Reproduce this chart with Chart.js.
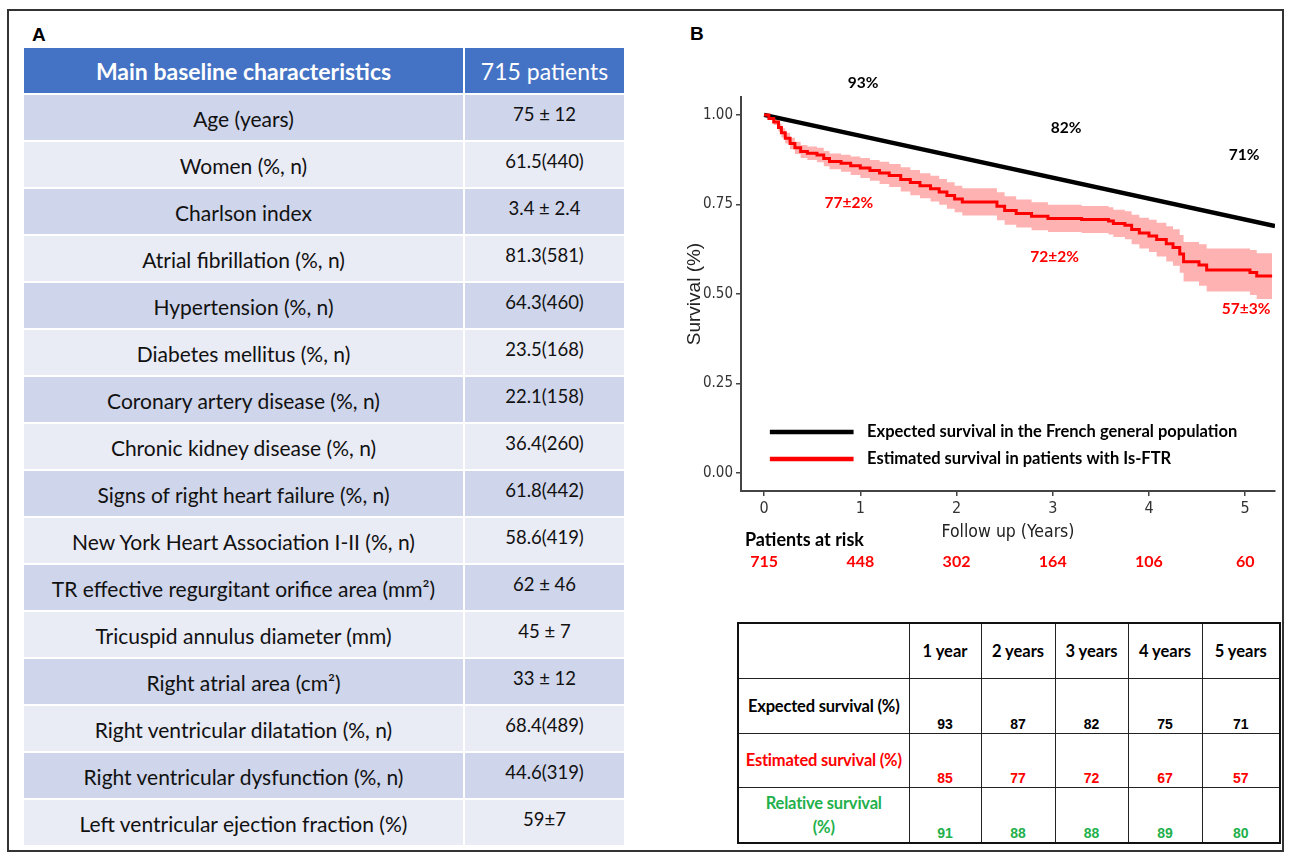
<!DOCTYPE html>
<html>
<head>
<meta charset="utf-8">
<script src="https://cdn.jsdelivr.net/npm/chart.js@4.4.0/dist/chart.umd.min.js"></script>
<style>
html,body{margin:0;padding:0;background:#fff;}
body{width:1290px;height:860px;position:relative;overflow:hidden;font-family:Lato,'Open Sans',sans-serif;}
#frame{position:absolute;left:7px;top:9px;width:1277px;height:843px;border:2px solid #333;box-sizing:border-box;}
.letter{position:absolute;font-family:'Liberation Sans',Arial,sans-serif;font-weight:bold;font-size:19px;color:#000;line-height:1;}
.cell{position:absolute;display:flex;align-items:center;justify-content:center;box-sizing:border-box;font-family:Lato,sans-serif;font-size:21px;color:#111;white-space:nowrap;padding-top:2px;}
.hdr{color:#fff;font-size:23px;padding-top:0;}
.hdr.b{font-weight:bold;}
.val{padding-bottom:8px;padding-top:0;font-size:18.5px;}
#chartBox{position:absolute;left:680px;top:60px;width:610px;height:520px;}
#tb{position:absolute;left:737px;top:622px;border-collapse:collapse;table-layout:fixed;border:2px solid #111;}
#tb td{border:1.5px solid #222;padding:0;text-align:center;box-sizing:border-box;white-space:nowrap;}
#tb .yh{font-family:Lato,sans-serif;font-weight:bold;font-size:16.5px;vertical-align:middle;color:#000;}
#tb .lab{font-family:Lato,sans-serif;font-weight:bold;font-size:16.5px;vertical-align:middle;line-height:24px;letter-spacing:-0.2px;}
#tb .num{font-family:'Liberation Sans',Arial,sans-serif;font-weight:bold;font-size:14px;vertical-align:bottom;padding-bottom:1px;}
</style>
</head>
<body>
<div id="frame"></div>
<div class="letter" style="left:32px;top:25px;">A</div>
<div class="letter" style="left:690px;top:24px;">B</div>
<div id="tableA"></div>
<div id="chartBox"><canvas id="c" width="610" height="520"></canvas></div>
<table id="tb"></table>
<script>
// ---------- Panel A data ----------
const charLabels = [
  'Age (years)','Women (%, n)','Charlson index','Atrial fibrillation (%, n)','Hypertension (%, n)',
  'Diabetes mellitus (%, n)','Coronary artery disease (%, n)','Chronic kidney disease (%, n)',
  'Signs of right heart failure (%, n)','New York Heart Association I-II (%, n)',
  'TR effective regurgitant orifice area (mm\u00B2)','Tricuspid annulus diameter  (mm)',
  'Right atrial area (cm\u00B2)','Right ventricular dilatation (%, n)',
  'Right ventricular dysfunction (%, n)','Left ventricular ejection fraction (%)'
];
const charValues = [
  '75 \u00B1 12','61.5(440)','3.4 \u00B1 2.4','81.3(581)','64.3(460)','23.5(168)','22.1(158)',
  '36.4(260)','61.8(442)','58.6(419)','62 \u00B1 46','45 \u00B1 7','33 \u00B1 12','68.4(489)',
  '44.6(319)','59\u00B17'
];
const headerLabels = ['Main baseline characteristics','715 patients'];

// ---------- Panel B data ----------
const xTicks = [0,1,2,3,4,5];
const yTicks = [0,0.25,0.5,0.75,1];
const yTickLabels = ['0.00','0.25','0.50','0.75','1.00'];
const expTime = [0, 5.31];
const expSurv = [1.0, 0.69];
const kmTime  = [0,0.05,0.10,0.15,0.18,0.22,0.27,0.32,0.38,0.45,0.55,0.62,0.68,0.80,0.90,1.00,1.10,1.20,1.30,1.42,1.52,1.62,1.73,1.82,1.90,1.98,2.06,2.42,2.50,2.62,2.78,2.95,3.30,3.58,3.63,3.75,3.82,3.90,4.00,4.08,4.18,4.25,4.32,4.36,4.52,4.60,5.05,5.12,5.28];
const kmSurv  = [1.000,0.990,0.980,0.965,0.950,0.935,0.920,0.908,0.898,0.893,0.888,0.878,0.870,0.865,0.858,0.852,0.845,0.838,0.831,0.820,0.811,0.802,0.794,0.785,0.775,0.765,0.757,0.745,0.733,0.725,0.717,0.711,0.708,0.704,0.697,0.692,0.680,0.670,0.662,0.652,0.640,0.630,0.612,0.590,0.581,0.567,0.560,0.550,0.550];
const kmLower = [1.000,0.986,0.972,0.954,0.937,0.920,0.904,0.891,0.880,0.874,0.868,0.857,0.848,0.841,0.832,0.824,0.816,0.807,0.799,0.786,0.776,0.767,0.758,0.749,0.738,0.728,0.719,0.706,0.693,0.686,0.678,0.673,0.670,0.666,0.659,0.653,0.639,0.627,0.617,0.605,0.591,0.579,0.559,0.535,0.523,0.507,0.497,0.486,0.486];
const kmUpper = [1.000,0.994,0.988,0.976,0.963,0.950,0.936,0.925,0.916,0.912,0.908,0.899,0.892,0.889,0.884,0.880,0.874,0.869,0.863,0.854,0.846,0.837,0.830,0.821,0.812,0.802,0.795,0.784,0.773,0.764,0.756,0.749,0.746,0.742,0.735,0.731,0.721,0.713,0.707,0.699,0.689,0.681,0.665,0.645,0.639,0.627,0.623,0.614,0.614];
const expLabels = ['93%','82%','71%'];
const estLabels = ['77\u00B12%','72\u00B12%','57\u00B13%'];
const atRiskTimes  = [0,1,2,3,4,5];
const atRiskCounts = [715,448,302,164,106,60];
const legendLabels = ['Expected survival in the French general population','Estimated survival in patients with Is-FTR'];

// ---------- Summary table data ----------
const yearLabels = ['1 year','2 years','3 years','4 years','5 years'];
const expectedPct = [93,87,82,75,71];
const estimatedPct = [85,77,72,67,57];
const relativePct = [91,88,88,89,80];

// ---------- Build Table A ----------
const tA = document.getElementById('tableA');
function cell(x,y,w,h,bg,txt,cls){
  const d=document.createElement('div');
  d.className='cell '+(cls||'');
  d.style.left=x+'px';d.style.top=y+'px';d.style.width=w+'px';d.style.height=h+'px';
  d.style.background=bg;d.textContent=txt;tA.appendChild(d);
}
cell(24,48,439,45,'#4472C4',headerLabels[0],'hdr b');
cell(465,48,159,45,'#4472C4',headerLabels[1],'hdr');
charLabels.forEach((lab,i)=>{
  const top=95+i*47;
  const bg = i%2===0 ? '#CFD5EA' : '#E9EBF5';
  cell(24,top,439,45,bg,lab,'');
  cell(465,top,159,45,bg,charValues[i],'val');
});

// ---------- Build summary table ----------
const tb=document.getElementById('tb');
const colW=[171,72,74,73,74,78];
const cg=document.createElement('colgroup');
colW.forEach(w=>{const c=document.createElement('col');c.style.width=w+'px';cg.appendChild(c);});
tb.appendChild(cg);
tb.style.width=colW.reduce((a,b)=>a+b,0)+'px';
function row(h,first,firstCls,firstColor,vals,valCls,valColor){
  const tr=document.createElement('tr');tr.style.height=h+'px';
  const td0=document.createElement('td');td0.className=firstCls;td0.innerHTML=first;td0.style.color=firstColor;tr.appendChild(td0);
  vals.forEach(v=>{const td=document.createElement('td');td.className=valCls;td.textContent=v;td.style.color=valColor;tr.appendChild(td);});
  tb.appendChild(tr);
}
row(55,'','yh','#000',yearLabels,'yh','#000');
row(55,'Expected survival (%)','lab','#000',expectedPct,'num','#000');
row(54,'Estimated survival (%)','lab','#FF0000',estimatedPct,'num','#FF0000');
row(56,'Relative survival<br>(%)','lab','#22B04B',relativePct,'num','#22B04B');

// ---------- Chart ----------
const expLabelPos = [[1.03,1.089],[3.14,0.964],[4.99,0.888]];
const estLabelPos = [[0.88,0.754],[3.02,0.603],[5.01,0.458]];
const cond = "'Liberation Sans Narrow','Arial Narrow','DejaVu Sans Condensed',sans-serif";
const annot = {
  id:'annot',
  afterDraw(chart){
    const {ctx, chartArea} = chart;
    const x=chart.scales.x, y=chart.scales.y;
    ctx.save();
    ctx.textAlign='center'; ctx.textBaseline='middle';
    ctx.font='bold 15.5px Lato, sans-serif';
    ctx.fillStyle='#000';
    expLabels.forEach((t,i)=>ctx.fillText(t, x.getPixelForValue(expLabelPos[i][0]), y.getPixelForValue(expLabelPos[i][1])));
    ctx.fillStyle='#FF0000';
    estLabels.forEach((t,i)=>ctx.fillText(t, x.getPixelForValue(estLabelPos[i][0]), y.getPixelForValue(estLabelPos[i][1])));
    // legend
    const legY=[y.getPixelForValue(0.115), y.getPixelForValue(0.039)];
    const legCol=['#000','#FF0000'];
    legY.forEach((py,i)=>{
      ctx.strokeStyle=legCol[i]; ctx.lineWidth=4.5;
      ctx.beginPath(); ctx.moveTo(x.getPixelForValue(0.06),py); ctx.lineTo(x.getPixelForValue(0.93),py); ctx.stroke();
      ctx.fillStyle='#000'; ctx.textAlign='left'; ctx.font='bold 16.5px Lato, sans-serif';
      ctx.fillText(legendLabels[i], x.getPixelForValue(1.07), py);
    });
    // patients at risk
    ctx.textAlign='left'; ctx.fillStyle='#000'; ctx.font='bold 18px Lato, sans-serif';
    ctx.fillText('Patients at risk', chartArea.left+4, chartArea.bottom+49);
    ctx.textAlign='center'; ctx.fillStyle='#FF0000'; ctx.font='bold 16px Lato, sans-serif';
    atRiskCounts.forEach((n,i)=>ctx.fillText(String(n), x.getPixelForValue(atRiskTimes[i]), chartArea.bottom+71));
    ctx.restore();
  }
};
const pts=(xs,ys)=>xs.map((v,i)=>({x:v,y:ys[i]}));
new Chart(document.getElementById('c'),{
  type:'line',
  data:{datasets:[
    {label:'Estimated',data:pts(kmTime,kmSurv),borderColor:'#FF0000',borderWidth:3,stepped:'before',pointRadius:0,fill:false,order:0},
    {label:'Expected',data:pts(expTime,expSurv),borderColor:'#000',borderWidth:4.5,pointRadius:0,fill:false,order:1},
    {label:'Upper',data:pts(kmTime,kmUpper),borderWidth:0,borderColor:'rgba(0,0,0,0)',stepped:'before',pointRadius:0,fill:'+1',backgroundColor:'rgba(255,0,0,0.30)',order:2},
    {label:'Lower',data:pts(kmTime,kmLower),borderWidth:0,borderColor:'rgba(0,0,0,0)',stepped:'before',pointRadius:0,fill:false,order:3}
  ]},
  options:{
    responsive:false, animation:false, devicePixelRatio:1,
    layout:{padding:{top:37,bottom:37,left:0,right:15}},
    plugins:{legend:{display:false},tooltip:{enabled:false}},
    scales:{
      x:{type:'linear',min:-0.24,max:5.31,
        afterBuildTicks:s=>{s.ticks=xTicks.map(v=>({value:v}));},
        afterFit:s=>{s.height=52;},
        ticks:{font:{family:cond,size:16},color:'#333',padding:3,callback:(v)=>String(v)},
        grid:{display:true,drawOnChartArea:false,drawTicks:true,tickLength:5,color:'#444',lineWidth:1.5},
        border:{display:true,color:'#444',width:2},
        title:{display:true,text:'Follow up (Years)',font:{family:cond,size:17.5},color:'#222',padding:{top:0,bottom:0}}
      },
      y:{type:'linear',min:-0.05,max:1.05,
        afterBuildTicks:s=>{s.ticks=yTicks.map(v=>({value:v}));},
        afterFit:s=>{s.width=61;},
        ticks:{font:{family:cond,size:15},color:'#333',padding:3,callback:(v,i)=>yTickLabels[i]},
        grid:{display:true,drawOnChartArea:false,drawTicks:true,tickLength:5,color:'#444',lineWidth:1.5},
        border:{display:true,color:'#444',width:2},
        title:{display:true,text:'Survival (%)',font:{family:"'Liberation Sans',Arial,sans-serif",size:19},color:'#222',padding:{top:3,bottom:0}}
      }
    }
  },
  plugins:[annot]
});
</script>
</body>
</html>
